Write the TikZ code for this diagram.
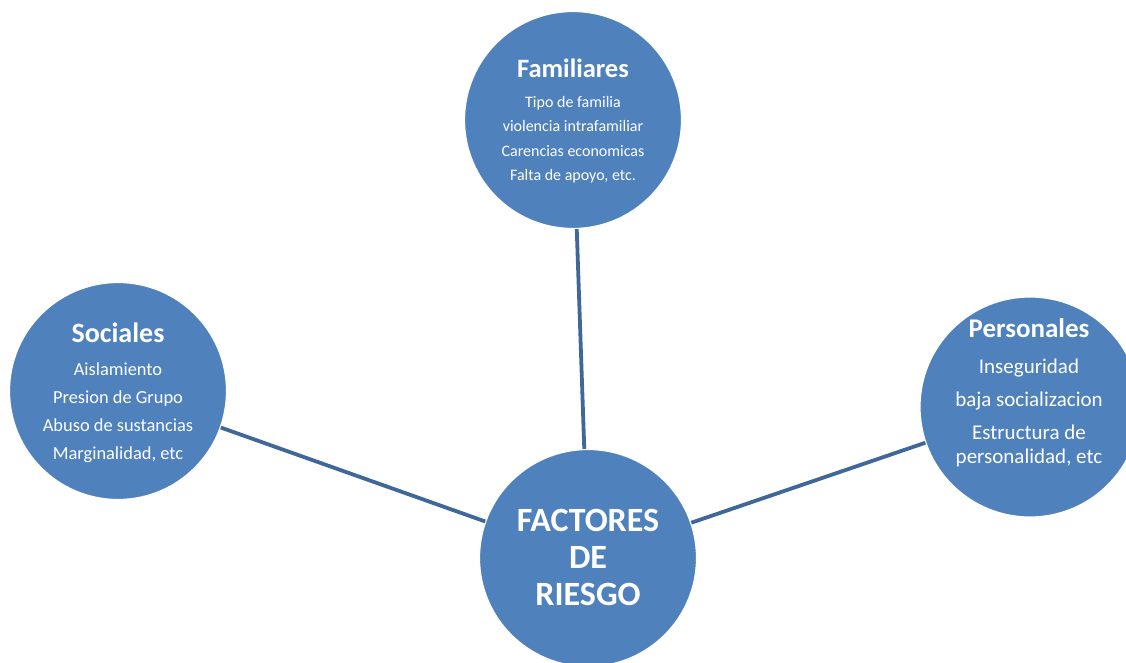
\documentclass[tikz,border=0pt]{standalone}
\usepackage{fontspec}
\setmainfont{Carlito}
\usepackage{xcolor}
\definecolor{bubblefill}{HTML}{4F81BD}
\definecolor{linkblue}{HTML}{3F6899}

\begin{document}
\begin{tikzpicture}[x=1pt,y=-1pt,
	bubble/.style={circle,fill=bubblefill,draw=white,line width=1.2pt,minimum size=217pt,inner sep=0pt},
	link/.style={linkblue,line width=3.8pt},
	txt/.style={text=white,align=center,inner sep=0pt}]
	\useasboundingbox (0,0) rectangle (1126,663);
	\clip (0,0) rectangle (1126,663);

	% the four circles
	\node[bubble] (fam) at (573,120) {};
	\node[bubble] (soc) at (118,391) {};
	\node[bubble,minimum size=220pt] (pers) at (1030,407) {};
	\node[bubble] (fact) at (588,558) {};

	% links to the centre
	\draw[link] (fam) -- (fact);
	\draw[link] (soc) -- (fact);
	\draw[link] (pers) -- (fact);

	% texts
	\node[txt,font=\fontsize{16}{24.5}\selectfont] (famtxt) at ([yshift=-1pt]fam.center)
		{{\bfseries\fontsize{26.5}{28}\selectfont Familiares}\\[5pt]
		Tipo de familia\\ violencia intrafamiliar\\ Carencias economicas\\ Falta de apoyo, etc.};
	\node[txt,font=\fontsize{18.4}{28}\selectfont] (soctxt) at ([yshift=-2pt]soc.center)
		{{\bfseries\fontsize{28}{30}\selectfont Sociales}\\[5pt]
		Aislamiento\\ Presion de Grupo\\ Abuso de sustancias\\ Marginalidad, etc};
	\node[txt,font=\fontsize{21}{24}\selectfont] (perstxt) at ([xshift=-1pt,yshift=14pt]pers.center)
		{{\bfseries\fontsize{27}{29}\selectfont Personales}\\[12pt]
		Inseguridad\\[9pt] baja socializacion\\[9pt] Estructura de\\ personalidad, etc};
	\node[txt,font=\bfseries\fontsize{34}{37}\selectfont] (facttxt) at ([yshift=1pt]fact.center)
		{FACTORES\\ DE\\ RIESGO};
\end{tikzpicture}
\end{document}
